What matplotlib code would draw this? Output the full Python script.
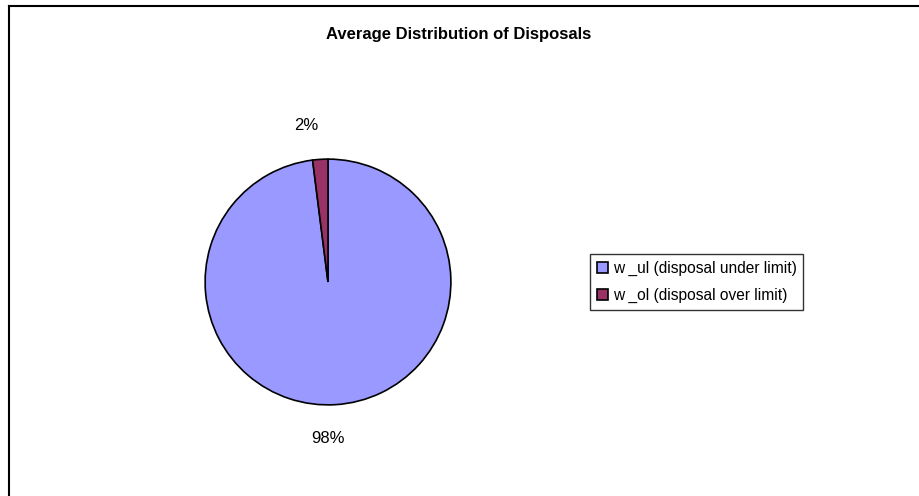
import matplotlib
matplotlib.use("Agg")
import matplotlib.pyplot as plt
from matplotlib.lines import Line2D

plt.rcParams['font.family'] = ['Liberation Sans', 'DejaVu Sans']

labels = ['w _ul (disposal under limit)', 'w _ol (disposal over limit)']
values = [98, 2]
pct_labels = ['98%', '2%']
colors = ['#9999FF', '#993366']

W, H = 919, 496
fig = plt.figure(figsize=(W / 100, H / 100), dpi=100)

# outer chart border (left and top visible, right/bottom cropped)
fig.add_artist(Line2D([9 / W, 9 / W], [0, 1 - 6 / H], color='black', lw=1.5))
fig.add_artist(Line2D([9 / W, 1], [1 - 6 / H, 1 - 6 / H], color='black', lw=1.5))

fig.text(459 / W, 1 - 35 / H, 'Average Distribution of Disposals',
         ha='center', va='center', fontsize=12, fontweight='bold')

# pie axes: center (328, 282) px, radius ~123.5 px
r = 123.5
cx, cy = 328, 282
ax = fig.add_axes([(cx - r) / W, (H - cy - r) / H, 2 * r / W, 2 * r / H])
wedges, texts = ax.pie(values, colors=colors, startangle=90, counterclock=False,
                       labels=pct_labels, labeldistance=1.28,
                       wedgeprops=dict(edgecolor='black', linewidth=1.2),
                       textprops=dict(fontsize=12))
# bottom label sits centred under the pie, like Excel
texts[0].set_ha('center')
texts[0].set_x(0)
for t in texts:
    t.set_va('center')
ax.set_xlim(-1.005, 1.005)
ax.set_ylim(-1.005, 1.005)
ax.set_aspect('equal')

leg = fig.legend(wedges, labels, loc='center left',
                 bbox_to_anchor=(590 / W, 1 - 282 / H),
                 fontsize=11.2, fancybox=False, frameon=True,
                 edgecolor='black', handlelength=0.7, handleheight=0.7,
                 handletextpad=0.3, borderpad=0.45, labelspacing=0.75,
                 borderaxespad=0)
leg.get_frame().set_linewidth(1.0)

fig.savefig('out.png', dpi=100)
